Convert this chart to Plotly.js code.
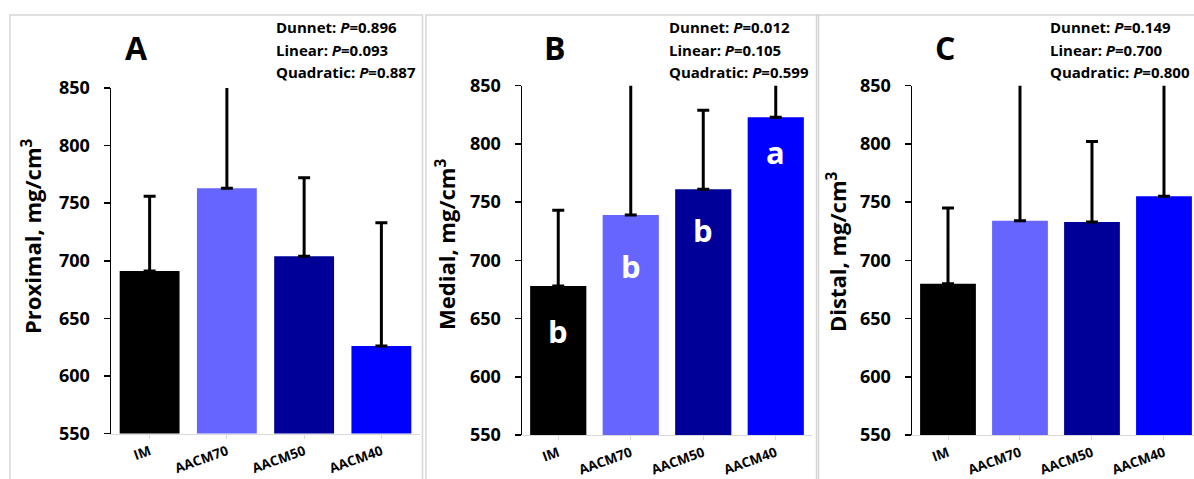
<!DOCTYPE html>
<html>
<head>
<meta charset="utf-8">
<script src="https://cdn.plot.ly/plotly-3.0.1.min.js"></script>
<style>
  html, body { margin: 0; padding: 0; background: #fff; }
  #chart { width: 1194px; height: 479px; }
</style>
</head>
<body>
<div id="chart"></div>
<script>
// Bone mineral density by region and diet group
const categories = ['IM', 'AACM70', 'AACM50', 'AACM40'];

const proximal    = [691, 763, 704, 626];
const proximalErr = [65, 100, 68, 107];

const medial      = [678, 739, 761, 823];
const medialErr   = [65, 125, 68, 60];
const medialLetters = ['b', 'b', 'b', 'a'];

const distal      = [680, 734, 733, 755];
const distalErr   = [65, 125, 69, 110];

const statsA = ['0.896', '0.093', '0.887'];
const statsB = ['0.012', '0.105', '0.599'];
const statsC = ['0.149', '0.700', '0.800'];
const statNames = ['Dunnet', 'Linear', 'Quadratic'];

const barColors = ['#000000', '#6666FF', '#000099', '#0000FF'];

// ---- layout helpers (pixel positions -> paper fractions) ----
const W = 1194, H = 479;
const px = x => x / W;
const py = y => 1 - y / H;
const FONT = 'Open Sans, DejaVu Sans, sans-serif';

function barTrace(values, errs, xa, ya) {
  return {
    type: 'bar',
    x: categories,
    y: values,
    xaxis: xa,
    yaxis: ya,
    marker: { color: barColors, line: { width: 0 } },
    error_y: {
      type: 'data',
      array: errs,
      arrayminus: errs.map(() => 0),
      symmetric: false,
      color: '#000000',
      thickness: 3,
      width: 6
    },
    hoverinfo: 'x+y',
    showlegend: false
  };
}

function xAxis(domain, range) {
  return {
    domain: domain,
    type: 'category',
    range: range,
    showline: true,
    linecolor: '#d9d9d9',
    linewidth: 1,
    ticks: 'outside',
    tickcolor: '#d9d9d9',
    ticklen: 4,
    tickwidth: 1,
    tickangle: -20,
    tickfont: { family: FONT, size: 13.5, weight: 700, color: '#000000' },
    showgrid: false,
    zeroline: false,
    fixedrange: true
  };
}

function yAxis(domain, anchor) {
  return {
    domain: domain,
    anchor: anchor,
    range: [550, 850],
    tick0: 550,
    dtick: 50,
    showline: true,
    linecolor: '#000000',
    linewidth: 1.5,
    ticks: 'outside',
    ticklen: 6,
    tickwidth: 1.5,
    tickcolor: '#000000',
    ticklabelstandoff: 10,
    tickfont: { family: FONT, size: 18, weight: 700, color: '#000000' },
    showgrid: false,
    zeroline: false,
    fixedrange: true
  };
}

const data = [
  barTrace(proximal, proximalErr, 'x', 'y'),
  barTrace(medial, medialErr, 'x2', 'y2'),
  barTrace(distal, distalErr, 'x3', 'y3')
];

const annotations = [];

// panel letters
[['A', 136], ['B', 555], ['C', 945]].forEach(([t, x]) => {
  annotations.push({
    xref: 'paper', yref: 'paper', x: px(x), y: py(47),
    text: t, showarrow: false, xanchor: 'center', yanchor: 'middle',
    font: { family: FONT, size: 32, weight: 700, color: '#000000' }
  });
});

// y-axis titles
[['Proximal, mg/cm<sup>3</sup>', 31, 237],
 ['Medial, mg/cm<sup>3</sup>', 445, 245],
 ['Distal, mg/cm<sup>3</sup>', 836, 252]].forEach(([t, x, y]) => {
  annotations.push({
    xref: 'paper', yref: 'paper', x: px(x), y: py(y),
    text: t, textangle: -90, showarrow: false,
    xanchor: 'center', yanchor: 'middle',
    font: { family: FONT, size: 22, weight: 700, color: '#000000' }
  });
});

// statistics blocks
[[statsA, 274], [statsB, 667], [statsC, 1048]].forEach(([vals, x]) => {
  vals.forEach((v, i) => {
    annotations.push({
      xref: 'paper', yref: 'paper', x: px(x), y: py(27 + i * 22.5),
      text: statNames[i] + ': <i>P</i>=' + v,
      showarrow: false, xanchor: 'left', yanchor: 'middle',
      font: { family: FONT, size: 15, weight: 700, color: '#000000' }
    });
  });
});

// significance letters inside the medial bars
const letterDrop = [45, 51, 41, 35];
medialLetters.forEach((t, i) => {
  annotations.push({
    xref: 'x2', yref: 'y2', x: categories[i], y: medial[i],
    yshift: -letterDrop[i],
    text: t, showarrow: false, xanchor: 'center', yanchor: 'middle',
    font: { family: FONT, size: 31, weight: 700, color: '#ffffff' }
  });
});

// panel frames
const frameLine = { color: '#d6d6d6', width: 1.5 };
const shapes = [
  [10, 422.5], [426, 818.5], [816.5, 1300]
].map(([x0, x1]) => ({
  type: 'rect', xref: 'paper', yref: 'paper',
  x0: px(x0), x1: px(x1), y0: py(520), y1: py(15),
  line: frameLine, fillcolor: 'rgba(0,0,0,0)', layer: 'below'
}));

const layout = {
  width: W,
  height: H,
  margin: { l: 0, r: 0, t: 0, b: 0, pad: 0 },
  paper_bgcolor: '#ffffff',
  plot_bgcolor: 'rgba(0,0,0,0)',
  bargap: 0.225,
  font: { family: FONT, color: '#000000' },
  showlegend: false,
  xaxis:  xAxis([px(111), px(420)], [-0.5, 3.5]),
  yaxis:  yAxis([1 - 433.5 / H, 1 - 88 / H], 'x'),
  xaxis2: Object.assign(xAxis([px(522), px(812)], [-0.5, 3.5]), { anchor: 'y2' }),
  yaxis2: yAxis([1 - 435 / H, 1 - 85.7 / H], 'x2'),
  xaxis3: Object.assign(xAxis([px(912), px(1194)], [-0.5, 3.417]), { anchor: 'y3' }),
  yaxis3: yAxis([1 - 435 / H, 1 - 85.7 / H], 'x3'),
  annotations: annotations,
  shapes: shapes
};
layout.xaxis.anchor = 'y';

Plotly.newPlot('chart', data, layout, { displayModeBar: false, staticPlot: true });
</script>
</body>
</html>
